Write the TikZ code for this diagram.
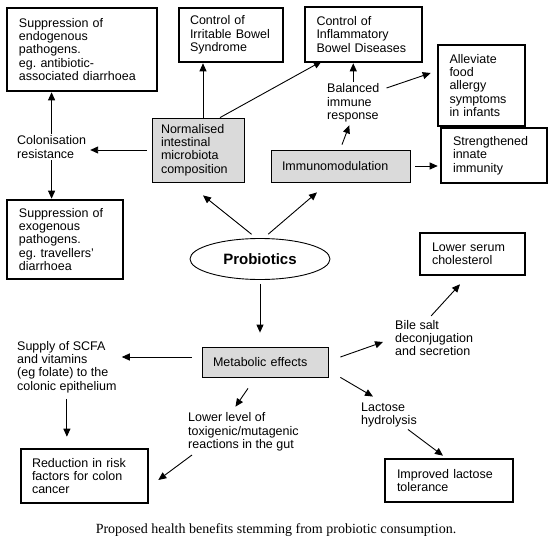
\documentclass[tikz,border=0pt]{standalone}
\usepackage{fontspec}
\setmainfont{Liberation Sans}
\newfontfamily\capfont{Liberation Serif}
\usetikzlibrary{shapes.geometric,arrows.meta}
\definecolor{boxgray}{RGB}{218,218,218}
\frenchspacing
\begin{document}
\begin{tikzpicture}[x=1pt,y=-1pt,
  every node/.style={font=\fontsize{12.5}{13.3}\selectfont},
  thickbox/.style={draw, line width=2.6pt, align=left, inner sep=0pt},
  graybox/.style={draw, line width=0.8pt, fill=boxgray, align=left, inner sep=0pt},
  plain/.style={align=left, inner sep=2pt, anchor=west},
  arr/.style={line width=0.9pt, -{Triangle[length=8pt,width=7pt]}},
  ln/.style={line width=0.9pt}
]
\useasboundingbox (0,0) rectangle (550,544);

% boxes with thick borders
\node[thickbox, minimum width=150, minimum height=83, text width=126] (endo) at (82,49.5)
  {Suppression of\\endogenous\\pathogens.\\eg. antibiotic-\\associated~diarrhoea};
\node[thickbox, minimum width=104, minimum height=54, text width=82] (ibs) at (231,35)
  {Control of\\Irritable~Bowel\\Syndrome};
\node[thickbox, minimum width=117, minimum height=55, text width=94] (ibd) at (363.5,34.5)
  {Control of\\Inflammatory\\Bowel~Diseases};
\node[thickbox, minimum width=87, minimum height=81, text width=64] (allev) at (481.5,85.5)
  {Alleviate\\food\\allergy\\symptoms\\in~infants};
\node[thickbox, minimum width=106, minimum height=55, text width=82] (strength) at (494,155.5)
  {Strengthened\\innate\\immunity};
\node[thickbox, minimum width=116, minimum height=79, text width=92] (exo) at (65,239.5)
  {Suppression~of\\exogenous\\pathogens.\\eg.~travellers'\\diarrhoea};
\node[thickbox, minimum width=105, minimum height=42, text width=81] (chol) at (472.5,254)
  {Lower~serum\\cholesterol};
\node[thickbox, minimum width=127, minimum height=54, text width=105] (red) at (84.5,476)
  {Reduction~in~risk\\factors~for~colon\\cancer};
\node[thickbox, minimum width=128, minimum height=43, text width=104] (imp) at (449,480.5)
  {Improved~lactose\\tolerance};

% grey boxes
\node[graybox, minimum width=92, minimum height=64, text width=74] (norm) at (198,150)
  {Normalised\\intestinal\\microbiota\\composition};
\node[graybox, minimum width=139, minimum height=32, text width=117] (immuno) at (340.5,166)
  {Immunomodulation};
\node[graybox, minimum width=126, minimum height=30, text width=104] (metab) at (265,362)
  {Metabolic~effects};

% ellipse
\node[ellipse, draw, line width=0.9pt, minimum width=140, minimum height=41, inner sep=0pt,
  font=\fontsize{15}{17}\selectfont\bfseries] (prob) at (260,259) {Probiotics};

% plain text
\node[plain] (colon) at (15,147) {Colonisation\\resistance};
\node[plain] (bal) at (325,103) {Balanced\\immune\\response};
\node[plain] (supply) at (15,367) {Supply of SCFA\\and vitamins\\(eg folate) to the\\colonic epithelium};
\node[plain] (lower) at (186,432) {Lower level of\\toxigenic/mutagenic\\reactions in the gut};
\node[plain] (bile) at (393,338) {Bile salt\\deconjugation\\and secretion};
\node[plain] (lac) at (359,415) {Lactose\\hydrolysis};

% caption
\node[font=\capfont\fontsize{14}{16}\selectfont, inner sep=0pt] (cap) at (276,530)
  {Proposed health benefits stemming from probiotic consumption.};

% connectors
\draw[arr] (colon.north) -- (colon.north |- endo.south);
\draw[arr] (colon.south) -- (colon.south |- exo.north);
\draw[arr, shorten <=5pt, shorten >=2pt] (norm.west) -- (norm.west -| colon.east);
\draw[arr] ([xshift=5pt]norm.north) -- ([xshift=5pt]norm.north |- ibs.south);
\draw[arr] ([xshift=22pt]norm.north) -- ([xshift=18pt,yshift=2pt]ibd.south west);
\draw[arr, shorten <=6pt] (prob.100) -- ([xshift=5pt,yshift=-13pt]norm.south);
\draw[arr, shorten <=6pt] (prob.80) -- ([xshift=-23.5pt,yshift=-10pt]immuno.south);
\draw[arr] ([xshift=1.5pt,yshift=5pt]immuno.north) -- ([xshift=-4pt,yshift=-1pt]bal.south);
\draw[arr] (bal.north) -- (bal.north |- ibd.south);
\draw[arr] ([xshift=5pt,yshift=15pt]bal.east) -- ([xshift=-6pt,yshift=12.5pt]allev.west);
\draw[arr, shorten <=5pt, shorten >=2pt] (immuno.east) -- (immuno.east -| strength.west);
\draw[arr, shorten <=4pt, shorten >=14pt] (prob.south) -- (prob.south |- metab.north);
\draw[arr, shorten <=10pt, shorten >=3pt] ([yshift=5pt]metab.west) -- ([yshift=5pt]metab.west -| supply.east);
\draw[arr, shorten <=4pt, shorten >=11pt] (supply.south) -- (supply.south |- red.north);
\draw[arr] ([xshift=-17pt,yshift=-11pt]metab.south) -- ([xshift=-8pt,yshift=4pt]lower.north);
\draw[arr] ([xshift=6pt,yshift=-23pt]lower.west) -- ([xshift=9pt,yshift=-4pt]red.east);
\draw[arr] ([xshift=12pt,yshift=5pt]metab.east) -- ([xshift=-10pt,yshift=-4pt]bile.west);
\draw[arr] ([xshift=-3pt,yshift=2pt]bile.north) -- ([xshift=-12.5pt,yshift=-8pt]chol.south);
\draw[arr] ([xshift=12pt]metab.south east) -- ([xshift=-16pt,yshift=4pt]lac.north);
\draw[arr] ([xshift=19pt]lac.south) -- ([xshift=-6pt,yshift=2pt]imp.north);
\end{tikzpicture}
\end{document}
